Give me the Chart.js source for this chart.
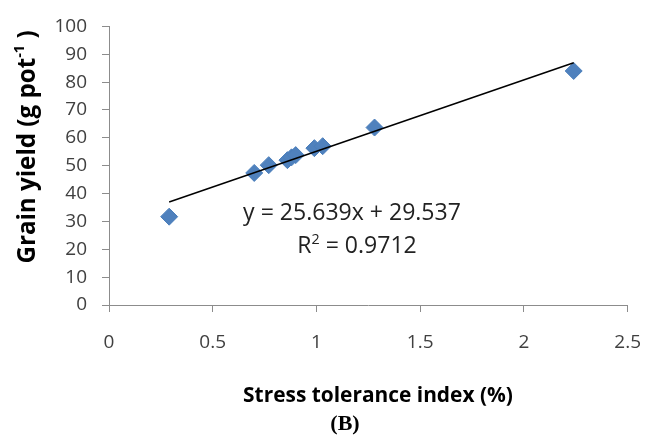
<!DOCTYPE html>
<html><head><meta charset="utf-8">
<script src="https://cdn.jsdelivr.net/npm/chart.js@4/dist/chart.umd.min.js"></script>
<style>html,body{margin:0;padding:0;background:#fff}#wrap{width:660px;height:441px;position:relative}</style>
</head><body><div id="wrap"><canvas id="c" width="660" height="441"></canvas></div>
<script>
// Data
const stressToleranceIndex = [0.29, 0.70, 0.77, 0.86, 0.88, 0.90, 0.99, 1.03, 1.28, 2.24];
const grainYield = [31.7, 47.4, 50.2, 52.0, 53.0, 53.8, 56.3, 57.0, 63.7, 84.0];
const trendSlope = 25.639;
const trendIntercept = 29.537;
const rSquared = 0.9712;
const xTickValues = [0, 0.5, 1, 1.5, 2, 2.5];
const yTickValues = [0, 10, 20, 30, 40, 50, 60, 70, 80, 90, 100];
const xAxisTitle = 'Stress tolerance index (%)';
const yAxisTitleMain = 'Grain yield (g pot';
const yAxisTitleSup = '-1';
const yAxisTitleEnd = ' )';
const panelLabel = '(B)';

const points = stressToleranceIndex.map((x, i) => ({x: x, y: grainYield[i]}));
const xMin = Math.min(...stressToleranceIndex), xMax = Math.max(...stressToleranceIndex);
const trendPoints = [xMin, xMax].map(x => ({x: x, y: trendSlope * x + trendIntercept}));

const FONT = '"Open Sans", "Liberation Sans", sans-serif';

function fitFont(ctx, text, weight, targetWidth, family) {
  ctx.font = weight + ' 20px ' + family;
  const w = ctx.measureText(text).width;
  return 20 * targetWidth / w;
}

const textPlugin = {
  id: 'texts',
  afterDraw(chart) {
    const ctx = chart.ctx;
    ctx.save();
    ctx.textBaseline = 'middle';
    ctx.textAlign = 'center';
    // equation
    ctx.fillStyle = '#222';
    const eq = 'y = ' + trendSlope + 'x + ' + trendIntercept;
    let s = fitFont(ctx, eq, 'normal', 218, FONT);
    ctx.font = 'normal ' + s + 'px ' + FONT;
    ctx.fillText(eq, 352, 213);
    const r2a = 'R', r2b = '2', r2c = ' = ' + rSquared;
    const wA = ctx.measureText(r2a).width, wC = ctx.measureText(r2c).width;
    const supFont = 'normal ' + (s * 0.62) + 'px ' + FONT;
    ctx.font = supFont; const wB = ctx.measureText(r2b).width;
    const total = wA + wB + wC;
    let x0 = 357 - total / 2;
    ctx.textAlign = 'left';
    ctx.font = 'normal ' + s + 'px ' + FONT;
    ctx.fillText(r2a, x0, 246);
    ctx.font = supFont;
    ctx.fillText(r2b, x0 + wA, 240);
    ctx.font = 'normal ' + s + 'px ' + FONT;
    ctx.fillText(r2c, x0 + wA + wB, 246);

    // x title
    ctx.fillStyle = '#000';
    ctx.textAlign = 'center';
    s = fitFont(ctx, xAxisTitle, 'bold', 270, FONT);
    ctx.font = 'bold ' + s + 'px ' + FONT;
    ctx.fillText(xAxisTitle, 378, 396);

    // y title (rotated)
    const yFull = yAxisTitleMain + yAxisTitleSup + yAxisTitleEnd;
    const titleSize = fitFont(ctx, yFull, 'bold', 242, FONT);
    ctx.save();
    ctx.translate(28, 147);
    ctx.rotate(-Math.PI / 2);
    ctx.textAlign = 'left';
    const mainFont = 'bold ' + titleSize + 'px ' + FONT;
    const supF = 'bold ' + (titleSize * 0.6) + 'px ' + FONT;
    ctx.font = mainFont; const wm = ctx.measureText(yAxisTitleMain).width; const we = ctx.measureText(yAxisTitleEnd).width;
    ctx.font = supF; const ws = ctx.measureText(yAxisTitleSup).width;
    let yx = -(wm + ws + we) / 2;
    ctx.font = mainFont; ctx.fillText(yAxisTitleMain, yx, 0);
    ctx.font = supF; ctx.fillText(yAxisTitleSup, yx + wm, -titleSize * 0.35);
    ctx.font = mainFont; ctx.fillText(yAxisTitleEnd, yx + wm + ws, 0);
    ctx.restore();

    // panel label
    ctx.textAlign = 'center';
    ctx.font = 'bold 22px "Liberation Serif", "DejaVu Serif", serif';
    ctx.fillText(panelLabel, 345, 424);
    ctx.restore();
  }
};

new Chart(document.getElementById('c'), {
  type: 'scatter',
  data: {
    datasets: [
      {
        label: 'Linear trend',
        data: trendPoints,
        showLine: true,
        borderColor: '#000000',
        borderWidth: 1.5,
        pointRadius: 0,
        pointHoverRadius: 0,
        order: 0
      },
      {
        label: 'Grain yield',
        data: points,
        pointStyle: 'rectRot',
        pointRadius: 8.5,
        pointHoverRadius: 8.5,
        backgroundColor: '#4F81BD',
        borderColor: '#4A7EBB',
        borderWidth: 1,
        order: 1
      }
    ]
  },
  options: {
    responsive: false,
    animation: false,
    devicePixelRatio: 1,
    layout: {padding: {top: 19, right: 29, left: 0, bottom: 0}},
    plugins: {legend: {display: false}, tooltip: {enabled: false}, title: {display: false}},
    scales: {
      x: {
        type: 'linear', min: 0, max: 2.5,
        afterBuildTicks(scale) { scale.ticks = xTickValues.map(v => ({value: v})); },
        afterFit(scale) { scale.height = 441 - 305; },
        grid: {display: true, drawOnChartArea: false, drawTicks: true, tickLength: 7, color: '#8c8c8c', lineWidth: 1},
        border: {display: true, color: '#8c8c8c', width: 1},
        ticks: {color: '#404040', font: {family: FONT, size: 19}, padding: 19, maxRotation: 0,
                callback: v => String(v)}
      },
      y: {
        type: 'linear', min: 0, max: 100,
        afterBuildTicks(scale) { scale.ticks = yTickValues.map(v => ({value: v})); },
        afterFit(scale) { scale.width = 109; },
        grid: {display: true, drawOnChartArea: false, drawTicks: true, tickLength: 7, color: '#8c8c8c', lineWidth: 1},
        border: {display: true, color: '#8c8c8c', width: 1},
        ticks: {color: '#404040', font: {family: FONT, size: 19}, padding: 15,
                callback: v => String(v)}
      }
    }
  },
  plugins: [textPlugin]
});
</script>
</body></html>
